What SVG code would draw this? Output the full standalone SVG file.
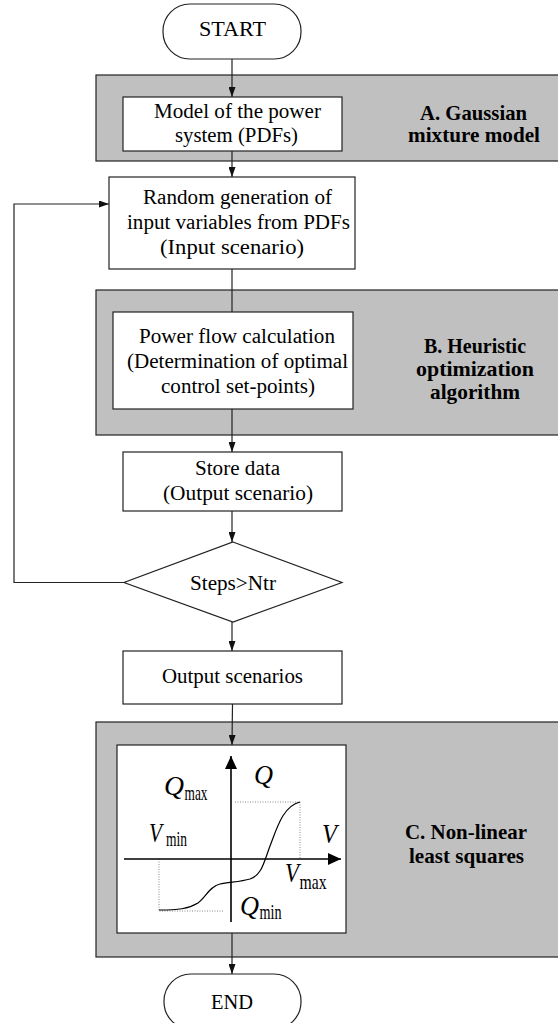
<svg xmlns="http://www.w3.org/2000/svg" width="558" height="1023" viewBox="0 0 558 1023">
<style>
.bg{fill:#ffffff}
.panel{fill:#c0c0c0;stroke:#222;stroke-width:1.2}
.box{fill:#ffffff;stroke:#222;stroke-width:1.2}
.t{font-family:"Liberation Serif","Times New Roman",serif;font-size:20px;fill:#000;text-anchor:middle}
.b{font-family:"Liberation Serif","Times New Roman",serif;font-size:21px;font-weight:bold;fill:#000;text-anchor:middle}
.it{font-family:"Liberation Serif","Times New Roman",serif;font-size:27px;font-style:italic;fill:#000}
.sub{font-family:"Liberation Serif","Times New Roman",serif;font-size:21px;fill:#000}
.con{fill:none;stroke:#222;stroke-width:1.2}
.axis{fill:none;stroke:#000;stroke-width:1.6}
.dot{fill:none;stroke:#888;stroke-width:1;stroke-dasharray:1 1.5}
.curve{fill:none;stroke:#000;stroke-width:1.2}
</style>
<defs>
<marker id="arr" markerUnits="userSpaceOnUse" markerWidth="10" markerHeight="7" refX="10" refY="3.5" orient="auto">
<path d="M0,0 L10,3.5 L0,7 z" fill="#111"/>
</marker>
<marker id="axarr" markerUnits="userSpaceOnUse" markerWidth="13" markerHeight="12" refX="13" refY="6" orient="auto">
<path d="M0,0 L13,6 L0,12 z" fill="#000"/>
</marker>
</defs>
<rect class="bg" x="0" y="0" width="558" height="1023"/>

<g id="panelA">
<rect class="panel" x="96" y="75" width="470" height="86"/>
<text class="b" x="473.5" y="120" textLength="107" lengthAdjust="spacingAndGlyphs">A. Gaussian</text>
<text class="b" x="474" y="142" textLength="132" lengthAdjust="spacingAndGlyphs">mixture model</text>
</g>
<g id="panelB">
<rect class="panel" x="96" y="290" width="470" height="145"/>
<text class="b" x="475" y="353" textLength="102" lengthAdjust="spacingAndGlyphs">B. Heuristic</text>
<text class="b" x="475" y="376" textLength="118" lengthAdjust="spacingAndGlyphs">optimization</text>
<text class="b" x="475" y="399" textLength="90" lengthAdjust="spacingAndGlyphs">algorithm</text>
</g>
<g id="panelC">
<rect class="panel" x="96" y="722" width="470" height="235"/>
<text class="b" x="466" y="839" textLength="122" lengthAdjust="spacingAndGlyphs">C. Non-linear</text>
<text class="b" x="466.5" y="863" textLength="115" lengthAdjust="spacingAndGlyphs">least squares</text>
</g>

<g id="connectors">
<line class="con" x1="232" y1="59" x2="232" y2="97" marker-end="url(#arr)"/>
<line class="con" x1="232" y1="151" x2="232" y2="177" marker-end="url(#arr)"/>
<line class="con" x1="232" y1="269" x2="232" y2="312"/>
<line class="con" x1="232" y1="409" x2="232" y2="452" marker-end="url(#arr)"/>
<line class="con" x1="232" y1="511" x2="232" y2="542" marker-end="url(#arr)"/>
<line class="con" x1="232" y1="622" x2="232" y2="651" marker-end="url(#arr)"/>
<line class="con" x1="232.5" y1="704" x2="232" y2="745" marker-end="url(#arr)"/>
<line class="con" x1="232" y1="933" x2="232" y2="974" marker-end="url(#arr)"/>
<path class="con" d="M124,582.5 H14 V204 H109" marker-end="url(#arr)"/>
</g>

<g id="start">
<rect class="box" x="163" y="4" width="138" height="55" rx="27" ry="27"/>
<text class="t" x="232.5" y="36" textLength="67" lengthAdjust="spacingAndGlyphs">START</text>
</g>
<g id="model">
<rect class="box" x="123" y="97" width="219" height="54"/>
<text class="t" x="237.5" y="118" textLength="167" lengthAdjust="spacingAndGlyphs">Model of the power</text>
<text class="t" x="236.5" y="142" textLength="123" lengthAdjust="spacingAndGlyphs">system (PDFs)</text>
</g>
<g id="random">
<rect class="box" x="109" y="177" width="246" height="92"/>
<text class="t" x="237.5" y="204" textLength="189" lengthAdjust="spacingAndGlyphs">Random generation of</text>
<text class="t" x="238.5" y="229" textLength="223" lengthAdjust="spacingAndGlyphs">input variables from PDFs</text>
<text class="t" x="232" y="254" textLength="144" lengthAdjust="spacingAndGlyphs">(Input scenario)</text>
</g>
<g id="powerflow">
<rect class="box" x="113" y="312" width="240" height="97"/>
<text class="t" x="237" y="343" textLength="196" lengthAdjust="spacingAndGlyphs">Power flow calculation</text>
<text class="t" x="237.5" y="368" textLength="221" lengthAdjust="spacingAndGlyphs">(Determination of optimal</text>
<text class="t" x="238" y="393" textLength="154" lengthAdjust="spacingAndGlyphs">control set-points)</text>
</g>
<g id="store">
<rect class="box" x="123" y="452" width="219" height="59"/>
<text class="t" x="237.5" y="475" textLength="85" lengthAdjust="spacingAndGlyphs">Store data</text>
<text class="t" x="238" y="500" textLength="150" lengthAdjust="spacingAndGlyphs">(Output scenario)</text>
</g>
<g id="decision">
<polygon class="box" points="233,542 342,582.5 233,622 124,582.5"/>
<text class="t" x="233" y="590" textLength="86" lengthAdjust="spacingAndGlyphs">Steps&gt;Ntr</text>
</g>
<g id="output">
<rect class="box" x="123" y="651" width="219" height="53"/>
<text class="t" x="232.5" y="683" textLength="141" lengthAdjust="spacingAndGlyphs">Output scenarios</text>
</g>
<g id="graph">
<rect class="box" x="117" y="745" width="229" height="188"/>
<polyline class="dot" points="235,802 300,802 300,859"/>
<polyline class="dot" points="159,859 159,911 224,911"/>
<line class="axis" x1="231" y1="922" x2="231" y2="756" marker-end="url(#axarr)"/>
<line class="axis" x1="124" y1="859" x2="341" y2="859" marker-end="url(#axarr)"/>
<path class="curve" d="M159,910 C178,910 188,909 198,903 C206,897 209,887 220,884 C228,882 240,882 250,879 C262,875 264,862 270,846 C277,828 283,806 300,802"/>
<text class="it" x="254" y="784" textLength="19" lengthAdjust="spacingAndGlyphs">Q</text>
<text class="it" x="164" y="795" textLength="20" lengthAdjust="spacingAndGlyphs">Q</text>
<text class="sub" x="184.5" y="800" textLength="23" lengthAdjust="spacingAndGlyphs">max</text>
<text class="it" x="149" y="842" textLength="13" lengthAdjust="spacingAndGlyphs">V</text>
<text class="sub" x="166" y="846" textLength="21" lengthAdjust="spacingAndGlyphs">min</text>
<text class="it" x="322" y="843" textLength="15" lengthAdjust="spacingAndGlyphs">V</text>
<text class="it" x="285" y="882" textLength="14" lengthAdjust="spacingAndGlyphs">V</text>
<text class="sub" x="299.5" y="889" textLength="27" lengthAdjust="spacingAndGlyphs">max</text>
<text class="it" x="240" y="915" textLength="19" lengthAdjust="spacingAndGlyphs">Q</text>
<text class="sub" x="259.5" y="919" textLength="22" lengthAdjust="spacingAndGlyphs">min</text>
</g>
<g id="end">
<rect class="box" x="164" y="974" width="137" height="55" rx="27" ry="27"/>
<text class="t" x="232" y="1009" textLength="42" lengthAdjust="spacingAndGlyphs">END</text>
</g>
</svg>
